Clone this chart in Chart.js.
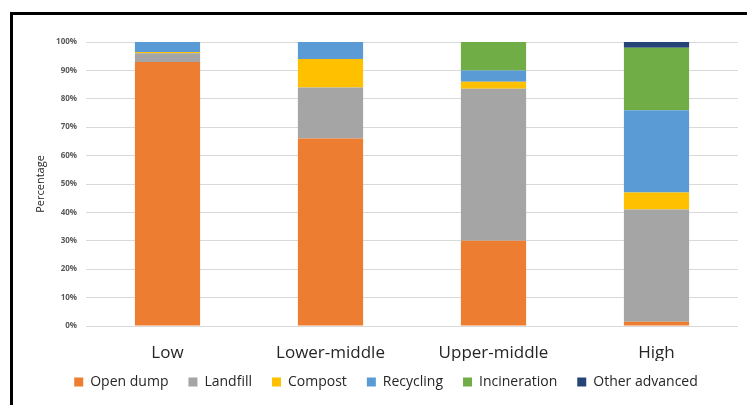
<!DOCTYPE html>
<html>
<head>
<meta charset="utf-8">
<script src="https://cdn.jsdelivr.net/npm/chart.js@4"></script>
<style>
  html, body { margin: 0; padding: 0; background: #fff; }
  .frame {
    position: absolute; left: 10px; top: 12px; right: -10px; bottom: -10px;
    border-top: 3px solid #000; border-left: 3px solid #000;
  }
  .wrap { position: absolute; left: 0; top: 0; width: 747px; height: 405px; }
</style>
</head>
<body>
<div class="frame"></div>
<div class="wrap"><canvas id="wasteChart"></canvas></div>
<script>
// income groups on the x axis
const incomeGroups = ['Low', 'Lower-middle', 'Upper-middle', 'High'];

// share of waste per treatment (%), one value per income group
const openDump = [93, 66, 30, 1.5];
const landfill = [3, 18, 53.5, 39.5];
const compost = [0.5, 10, 2.5, 6];
const recycling = [3.5, 6, 4, 29];
const incineration = [0, 0, 10, 22];
const otherAdvanced = [0, 0, 0, 2];

const yTicks = [0, 10, 20, 30, 40, 50, 60, 70, 80, 90, 100];

const series = [
    { label: 'Open dump', data: openDump, color: '#ED7D31' },
    { label: 'Landfill', data: landfill, color: '#A5A5A5' },
    { label: 'Compost', data: compost, color: '#FFC000' },
    { label: 'Recycling', data: recycling, color: '#5B9BD5' },
    { label: 'Incineration', data: incineration, color: '#70AD47' },
    { label: 'Other advanced', data: otherAdvanced, color: '#264478' }
];

// pull the legend a little closer to the axis labels
const legendLift = {
    id: 'legendLift',
    afterLayout(chart) {
        const lg = chart.legend;
        if (!lg) return;
        lg.top -= 6;
        lg.bottom -= 6;
    }
};

const ctx = document.getElementById('wasteChart');
new Chart(ctx, {
    type: 'bar',
    data: {
        labels: incomeGroups,
        datasets: series.map(s => ({
            label: s.label,
            data: s.data,
            backgroundColor: s.color,
            borderWidth: 0,
            barPercentage: 0.4,
            categoryPercentage: 1
        }))
    },
    options: {
        responsive: true,
        maintainAspectRatio: false,
        animation: false,
        layout: { padding: { left: 34, right: 9, top: 42, bottom: 0 } },
        plugins: {
            tooltip: { enabled: false },
            legend: {
                position: 'bottom',
                labels: {
                    color: '#262626',
                    font: { family: 'Open Sans', size: 14 },
                    boxWidth: 9,
                    boxHeight: 9,
                    padding: 20
                }
            }
        },
        scales: {
            x: {
                stacked: true,
                grid: { display: false },
                border: { display: false },
                ticks: {
                    color: '#262626',
                    font: { family: 'Open Sans', size: 17 },
                    padding: 9
                },
                afterFit: scale => { scale.height = 35; }
            },
            y: {
                stacked: true,
                min: 0,
                max: 100,
                afterBuildTicks: scale => { scale.ticks = yTicks.map(v => ({ value: v })); },
                afterFit: scale => { scale.width = 52; },
                grid: { color: '#d9d9d9', drawTicks: false },
                border: { display: false },
                ticks: {
                    color: '#595959',
                    font: { family: 'Open Sans', size: 8, weight: 'bold' },
                    padding: 9,
                    callback: v => v + '%'
                },
                title: {
                    display: true,
                    text: 'Percentage',
                    color: '#262626',
                    font: { family: 'Open Sans', size: 11 },
                    padding: { top: 0, bottom: 4 }
                }
            }
        }
    },
    plugins: [legendLift]
});
</script>
</body>
</html>
